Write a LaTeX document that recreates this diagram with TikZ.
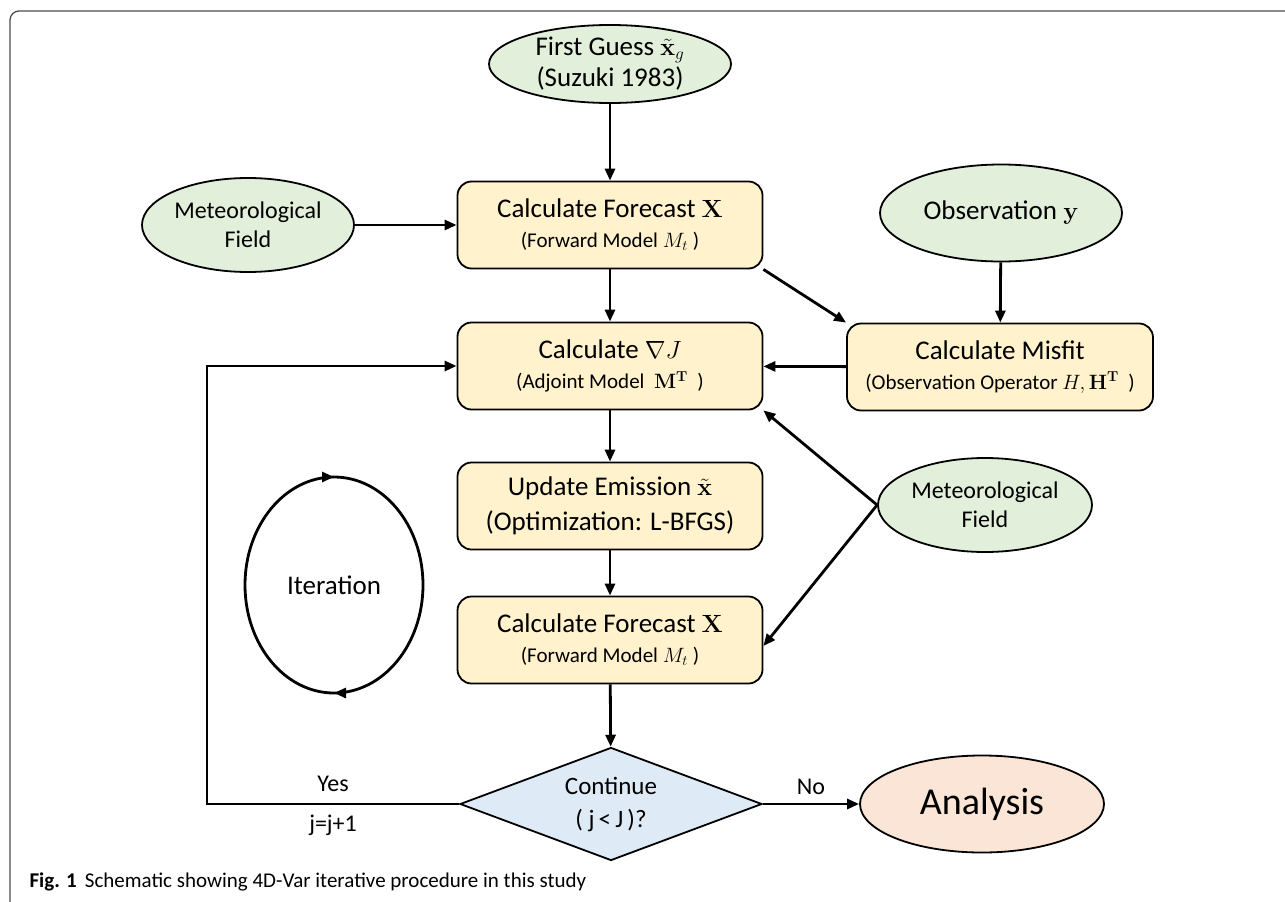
\documentclass[tikz,border=0pt]{standalone}
\usepackage[no-math]{fontspec}
\setmainfont{Carlito}
\usepackage{amsmath}
\usetikzlibrary{arrows.meta,positioning,shapes.geometric,decorations.markings}

\definecolor{ellgreen}{RGB}{226,239,218}
\definecolor{boxyellow}{RGB}{255,242,204}
\definecolor{diablue}{RGB}{222,235,247}
\definecolor{anapeach}{RGB}{251,229,214}

\newcommand{\subtxt}[1]{{\fontsize{21}{25}\selectfont #1}}

\begin{document}
\begin{tikzpicture}[
    x=1pt, y=-1pt,
    source/.style={ellipse, draw, line width=1.8pt, fill=ellgreen,
                   align=center, inner sep=0pt,
                   font=\fontsize{24}{29}\selectfont},
    process/.style={rectangle, draw, line width=1.8pt, rounded corners=14pt,
                    fill=boxyellow, minimum width=305pt, minimum height=87pt,
                    align=center, font=\fontsize{27}{30}\selectfont},
    decision/.style={diamond, draw, line width=1.8pt, fill=diablue,
                     minimum width=302pt, minimum height=113pt, aspect=2.67,
                     inner sep=0pt, align=center, font=\fontsize{25}{33}\selectfont},
    flow/.style={-{Triangle[length=12pt,width=10pt]}, line width=2.8pt},
    lbl/.style={font=\fontsize{24}{28}\selectfont}
]
\useasboundingbox (0,0) rectangle (1285,902);

% frame of the figure
\draw[gray!60!black, line width=1.3pt, rounded corners=9pt] (1285,11) -- (10,11) -- (10,902);

% inputs
\node[source, minimum width=242pt, minimum height=78pt, font=\fontsize{27}{31}\selectfont] (guess) at (610,64) {First Guess $\tilde{\mathbf{x}}_g$\\(Suzuki 1983)};
\node[source, minimum width=212pt, minimum height=94pt] (met1) at (248,225) {Meteorological\\Field};
\node[source, minimum width=242pt, minimum height=97pt, font=\fontsize{27}{31}\selectfont] (obs) at (1001,213) {Observation $\mathbf{y}$};
\node[source, minimum width=214pt, minimum height=94pt] (met2) at (985,505) {Meteorological\\Field};

% processing steps
\node[process] (fc1) at (610,225) {Calculate Forecast $\mathbf{X}$\\\subtxt{(Forward Model $M_t$ )}};
\node[process] (grad) at (610,366) {Calculate $\nabla J$\\\subtxt{(Adjoint Model~ $\mathbf{M}^{\mathbf{T}}$~ )}};
\node[process, minimum width=306pt] (misfit) at (1000,367) {Calculate Misfit\\\subtxt{(Observation Operator $H, \mathbf{H}^{\mathbf{T}}$~ )}};
\node[process, font=\fontsize{27}{35}\selectfont] (update) at (610,506) {Update Emission $\tilde{\mathbf{x}}$\\(Optimization: L-BFGS)};
\node[process] (fc2) at (610,640) {Calculate Forecast $\mathbf{X}$\\\subtxt{(Forward Model $M_t$ )}};

% decision and result
\node[decision] (cont) at (611,804) {Continue\\( j\,<\,J\,)?};
\node[ellipse, draw, line width=1.8pt, fill=anapeach, minimum width=244pt, minimum height=97pt,
      font=\fontsize{38}{40}\selectfont] (ana) at (982,804) {Analysis};

% iteration loop
\draw[line width=2.8pt, postaction={decorate},
      decoration={markings,
        mark=at position 0.25 with {\arrow{Triangle[length=12pt,width=10pt]}},
        mark=at position 0.75 with {\arrow{Triangle[length=12pt,width=10pt]}}}]
      (334,585) ellipse [x radius=89, y radius=108];
\node[font=\fontsize{27}{31}\selectfont] (iter) at (334,585) {Iteration};

% connectors
\draw[flow] (guess) -- (fc1);
\draw[flow] (met1) -- (fc1);
\draw[flow] (fc1) -- (grad);
\draw[flow] (obs) -- (misfit);
\draw[flow] (fc1.south east) -- (misfit.north west);
\draw[flow] (misfit) -- (grad);
\draw[flow] (grad) -- (update);
\draw[flow] (update) -- (fc2);
\draw[flow] (met2.west) -- (grad.south east);
\draw[flow] (met2.west) -- ([yshift=-6pt]fc2.east);
\draw[flow] (fc2) -- (cont);
\draw[flow] (cont) -- node[lbl, above=5pt] {No} (ana);
\coordinate (back) at (207,804);
\draw[flow] (cont.west) -- node[lbl, above=8pt] {Yes} node[lbl, below=6pt] {j=j+1} (back) |- (grad.west);

% caption
\node[anchor=base west, font=\fontsize{21}{24}\selectfont] (caption) at (26,887)
    {\textbf{Fig. 1}\hspace{8pt}Schematic showing 4D-Var iterative procedure in this study};
\end{tikzpicture}
\end{document}
